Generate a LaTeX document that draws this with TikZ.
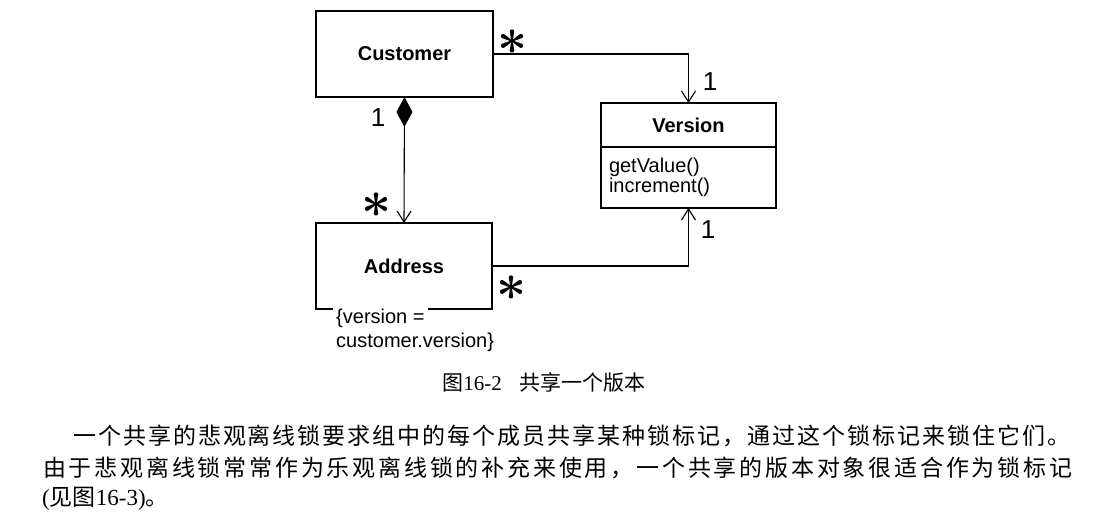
\documentclass[tikz,border=0pt]{standalone}
\usepackage{fontspec}
\setmainfont{Liberation Serif}
\setsansfont{Liberation Sans}
\newfontfamily\cjk{Noto Sans CJK SC}
\usepackage{graphicx}
\usetikzlibrary{arrows.meta,positioning}

\def\umlsize{\fontsize{20}{20}\selectfont\sffamily}
\def\mstar{\scalebox{2.1}{\boldmath$\ast$}}
% spread the characters of a line over a fixed width
\def\spreadchars#1{\spreadfirst#1\relax}
\def\spreadfirst#1{#1\spreadloop}
\def\spreadloop#1{\ifx#1\relax\else\hfil#1\expandafter\spreadloop\fi}

\begin{document}
\begin{tikzpicture}[x=1pt,y=-1pt,
    classbox/.style={draw,line width=1.1pt,outer sep=0pt,minimum width=177pt,minimum height=86pt,font=\umlsize\bfseries},
    methodbox/.style={draw,line width=1.1pt,outer sep=0pt,minimum height=61pt,text width=159pt,inner xsep=8pt,align=left,font=\umlsize},
    note/.style={inner sep=3pt,font=\umlsize},
    mult/.style={inner sep=0pt,font=\fontsize{26}{26}\selectfont\sffamily},
    assoc/.style={line width=1.1pt,-{Straight Barb[length=11pt,width=14pt]}},
    compose/.style={line width=1.1pt,{Diamond[length=30pt,width=16pt]}-{Straight Barb[length=11pt,width=14pt]}},
    para/.style={inner sep=0pt,font=\fontsize{23}{23}\selectfont\cjk}]
    \useasboundingbox (0,0) rectangle (1104,530);
    % classes
    \node[classbox] (customer) at (404.5,54) {Customer};
    \node[classbox,minimum width=176pt] (address) at (404,266) {Address};
    \node[classbox,minimum width=175pt,minimum height=44pt] (version) at (688.5,125) {Version};
    \node[methodbox,below=0pt of version] (versionops) {getValue()\\increment()};
    \node[note,fill=white,anchor=west] (constrainttop) at (333,318) {\{version =};
    \node[note,anchor=west] (constraintbottom) at (333,342) {customer.version\}};
    % associations
    \draw[assoc] (customer.east) -| (version.north);
    \draw[compose] (customer.south) -- (address.north);
    \draw[assoc] (address.east) -| (versionops.south);
    % multiplicities
    \node[mult] (custstar) at (513,42) {\mstar};
    \node[mult] (verone) at (710,82) {1};
    \node[mult] (custone) at (378,118) {1};
    \node[mult] (addrstar) at (377,205) {\mstar};
    \node[mult] (addrright) at (512,288) {\mstar};
    \node[mult] (vertwo) at (708,230) {1};
    % caption and text
    \node[inner sep=0pt,font=\fontsize{21}{21}\selectfont] (caption) at (544,382) {{\cjk 图}16-2\hspace{18pt}{\cjk 共享一个版本}};
    \node[para,anchor=west] (line1) at (73,436) {\hbox to 997pt{\spreadchars{一个共享的悲观离线锁要求组中的每个成员共享某种锁标记，通过这个锁标记来锁住它们。}}};
    \node[para,anchor=west] (line2) at (43,468) {\hbox to 1029pt{\spreadchars{由于悲观离线锁常常作为乐观离线锁的补充来使用，一个共享的版本对象很适合作为锁标记}}};
    \node[para,anchor=west] (line3) at (42,499) {{\rmfamily(}见图{\rmfamily16-3)}。};
\end{tikzpicture}
\end{document}
